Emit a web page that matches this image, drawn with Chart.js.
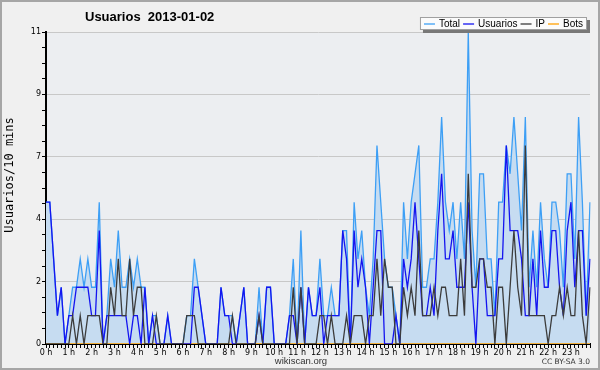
<!DOCTYPE html>
<html><head><meta charset="utf-8">
<script src="https://cdn.jsdelivr.net/npm/chart.js@4"></script>
<style>html,body{margin:0;padding:0;background:#f0f0f0}</style>
</head><body><canvas id="c" width="600" height="370"></canvas>
<script>
const hourLabels = ['0 h','1 h','2 h','3 h','4 h','5 h','6 h','7 h','8 h','9 h','10 h','11 h','12 h','13 h','14 h','15 h','16 h','17 h','18 h','19 h','20 h','21 h','22 h','23 h'];
const slotsPerHour = 6;
const yTickLabels = ['0','2','4','7','9','11'];
const yMajorTicks = [0, 2.2, 4.4, 6.6, 8.8, 11];
const seriesNames = ['Total','Usuarios','IP','Bots'];

const total = [5,5,3,1,2,0,1,2,2,3, 2,3,2,2,5,0,1,3,2,4, 2,2,3,2,3,2,2,0,1,1, 0,0,1,0,0,0,0,1,1,3,
  2,1,0,0,0,0,2,1,1,1, 0,1,2,0,0,0,2,0,2,2, 0,0,0,0,1,3,0,4,0,2, 1,1,3,1,1,2,1,1,4,4,
  0,5,3,4,2,1,3,7,5,3, 2,2,1,0,5,3,5,6,7,2, 2,3,3,5,8,5,4,5,3,5, 3,11,4,2,6,6,3,3,1,5,
  5,7,6,8,6,4,8,2,4,2, 5,3,2,5,5,4,2,6,6,3, 8,5,1,5];
const usuarios = [5,5,3,1,2,0,1,1,2,2, 2,2,1,1,4,0,1,1,1,1, 1,1,0,1,1,0,2,0,1,0, 0,0,1,0,0,0,0,0,0,2,
  2,1,0,0,0,0,2,1,1,0, 0,1,2,0,0,0,1,0,2,2, 0,0,0,0,1,1,0,2,0,2, 1,1,2,0,1,1,1,1,4,3,
  0,4,2,3,2,0,2,4,4,0, 0,0,1,0,3,2,3,5,3,1, 1,2,1,4,6,3,3,4,2,2, 2,5,2,0,3,3,1,1,1,3,
  3,7,4,4,4,3,1,1,3,1, 4,2,2,4,4,2,1,4,5,2, 4,4,1,3];
const ip = [0,0,0,0,0,0,0,1,0,1, 0,1,1,1,1,0,0,2,1,3, 1,1,3,1,2,2,0,0,0,1, 0,0,0,0,0,0,0,1,1,1,
  0,0,0,0,0,0,0,0,0,1, 0,0,0,0,0,0,1,0,0,0, 0,0,0,0,0,2,0,2,0,0, 0,0,1,1,0,1,0,0,0,1,
  0,1,1,1,0,1,1,3,1,3, 2,2,0,0,2,1,2,1,4,1, 1,1,2,1,2,2,1,1,1,3, 1,6,2,2,3,3,2,2,0,2,
  2,0,2,4,2,1,7,1,1,1, 1,1,0,1,1,2,1,2,1,1, 4,1,0,2];
const bots = [0,0,0,0,0,0,0,0,0,0, 0,0,0,0,0,0,0,0,0,0, 0,0,0,0,0,0,0,0,0,0, 0,0,0,0,0,0,0,0,0,0,
  0,0,0,0,0,0,0,0,0,0, 0,0,0,0,0,0,0,0,0,0, 0,0,0,0,0,0,0,0,0,0, 0,0,0,0,0,0,0,0,0,0,
  0,0,0,0,0,0,0,0,0,0, 0,0,0,0,0,0,0,0,0,0, 0,0,0,0,0,0,0,0,0,0, 0,0,0,0,0,0,0,0,0,0,
  0,0,0,0,0,0,0,0,0,0, 0,0,0,0,0,0,0,0,0,0, 0,0,0,0];

const slots = [];
hourLabels.forEach(h => { for (let k = 0; k < slotsPerHour; k++) slots.push(h + ' ' + (k*10)); });

const yTicks = [];
for (let m = 0; m < yMajorTicks.length; m++) {
  yTicks.push(yMajorTicks[m]);
  if (m < yMajorTicks.length - 1) {
    const step = (yMajorTicks[m+1] - yMajorTicks[m]) / 4;
    for (let k = 1; k < 4; k++) yTicks.push(yMajorTicks[m] + step*k);
  }
}

const colors = {Total:'#3d9ff5', Usuarios:'#1414f0', IP:'#3c3c3c', Bots:'#ffa000'};

const deco = {
  id: 'deco',
  beforeDraw(chart) {
    const c = chart.ctx, a = chart.chartArea;
    c.save();
    c.fillStyle = '#f0f0f0';
    c.fillRect(0, 0, chart.width, chart.height);
    c.fillStyle = '#eceef1';
    c.fillRect(a.left, a.top, a.right - a.left, a.bottom - a.top);
    c.restore();
  },
  afterDraw(chart) {
    const c = chart.ctx, a = chart.chartArea;
    c.save();
    // title
    c.fillStyle = '#000';
    c.font = 'bold 13px "Liberation Sans"';
    c.textBaseline = 'middle';
    c.textAlign = 'left';
    c.fillText('Usuarios  2013-01-02', 85, 17);
    // y title
    c.save();
    c.translate(10, 175);
    c.rotate(-Math.PI/2);
    c.textAlign = 'center';
    c.font = '12px "DejaVu Sans Mono"';
    c.fillText('Usuarios/10 mins', 0, 0);
    c.restore();
    // footer
    c.textAlign = 'center';
    c.font = '9.5px "Liberation Sans"';
    c.fillStyle = '#333';
    c.fillText('wikiscan.org', 301, 361);
    c.textAlign = 'right';
    c.font = '7.5px "DejaVu Sans"';
    c.fillText('CC BY-SA 3.0', 590, 362);
    // legend
    c.font = '10px "Liberation Sans"';
    const lineLen = 11, gapA = 4, gapB = 3, pad = 4;
    let w = pad;
    seriesNames.forEach((n, i) => { w += lineLen + gapA + c.measureText(n).width + (i < seriesNames.length - 1 ? gapB : 0); });
    w += pad;
    const bx = 587 - w, by = 17, bh = 13;
    c.fillStyle = '#787878';
    c.fillRect(bx + 3, by + 3, w, bh);
    c.fillStyle = '#fbfbfb';
    c.fillRect(bx, by, w, bh);
    c.strokeStyle = '#a0a0a0';
    c.lineWidth = 1;
    c.strokeRect(bx + 0.5, by + 0.5, w - 1, bh - 1);
    let x = bx + pad;
    const ty = by + bh/2 + 0.5;
    c.textAlign = 'left';
    seriesNames.forEach(n => {
      c.strokeStyle = colors[n];
      c.lineWidth = 1.3;
      c.beginPath(); c.moveTo(x, ty); c.lineTo(x + lineLen, ty); c.stroke();
      x += lineLen + gapA;
      c.fillStyle = '#000';
      c.fillText(n, x, ty);
      x += c.measureText(n).width + gapB;
    });
    // frame
    c.strokeStyle = '#a6a6a6';
    c.lineWidth = 2;
    c.strokeRect(1, 1, chart.width - 2, chart.height - 2);
    c.restore();
  }
};

new Chart(document.getElementById('c'), {
  type: 'line',
  data: {
    labels: slots,
    datasets: [
      {label: 'Total', data: total, borderColor: colors.Total, backgroundColor: '#c6dcf1', fill: 'origin', order: 4},
      {label: 'Usuarios', data: usuarios, borderColor: colors.Usuarios, fill: false, order: 2},
      {label: 'IP', data: ip, borderColor: colors.IP, fill: false, order: 1},
      {label: 'Bots', data: bots, borderColor: colors.Bots, fill: false, order: 3}
    ]
  },
  options: {
    responsive: false,
    animation: false,
    devicePixelRatio: 1,
    layout: {padding: {left: 0, right: 10, top: 32, bottom: 0}},
    elements: {point: {radius: 0}, line: {borderWidth: 1.3, tension: 0}},
    plugins: {legend: {display: false}, title: {display: false}, tooltip: {enabled: false}},
    scales: {
      x: {
        type: 'category', offset: false, z: 1,
        grid: {display: true, drawOnChartArea: false, tickLength: 4, color: '#000', tickColor: '#000'},
        border: {color: '#000', width: 2},
        ticks: {autoSkip: false, maxRotation: 0, minRotation: 0, padding: 0, color: '#000',
          font: {size: 8, family: 'DejaVu Sans'},
          callback: (v, i) => (i % slotsPerHour === 0 ? hourLabels[i / slotsPerHour] : '')},
        afterFit(s) { s.height = 26; }
      },
      y: {
        min: 0, max: 11, z: 1,
        afterBuildTicks(s) { s.ticks = yTicks.map(v => ({value: v})); },
        grid: {drawOnChartArea: true, tickLength: 4, tickColor: '#000',
          color: ctx => (ctx.index % 4 === 0 ? '#c8c8c8' : 'rgba(0,0,0,0)')},
        border: {color: '#000', width: 2},
        ticks: {padding: 1, color: '#000', font: {size: 8, family: 'DejaVu Sans'},
          callback: (v, i) => (i % 4 === 0 ? yTickLabels[i / 4] : '')},
        afterFit(s) { s.width = 46; }
      }
    }
  },
  plugins: [deco]
});
</script>
</body></html>
